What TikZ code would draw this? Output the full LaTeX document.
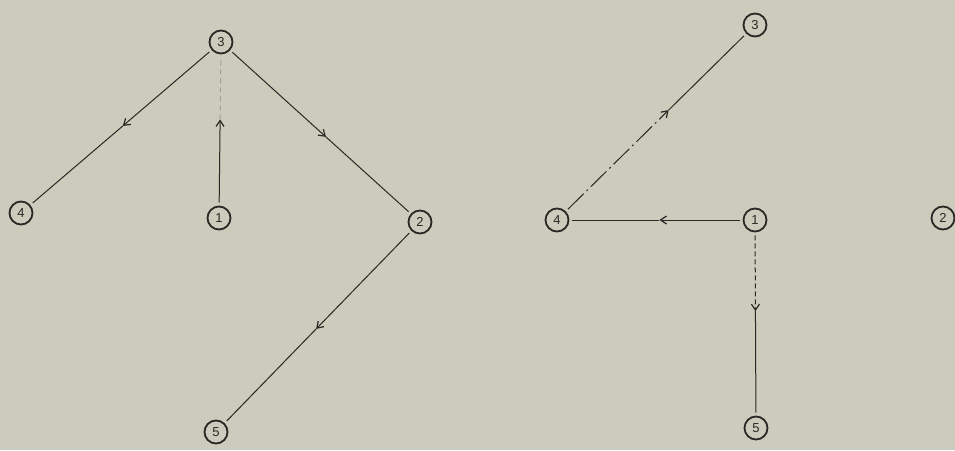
\documentclass[tikz,border=0pt]{standalone}
\usepackage{fontspec}
\setmainfont{Liberation Sans}
\usetikzlibrary{arrows.meta,calc}
\definecolor{paper}{RGB}{205,203,187}
\definecolor{ink}{RGB}{40,40,36}
\tikzset{
  vert/.style={circle,draw=ink,line width=1.8pt,minimum size=23pt,inner sep=0pt,
    font=\fontsize{13}{13}\selectfont,text=ink},
  edge/.style={draw=ink,line width=1pt},
  half/.style={edge,shorten <=3pt,-{Straight Barb[length=6pt,width=8pt,line width=1.2pt]}},
  rest/.style={edge,shorten >=3pt},
  faint/.style={edge,draw=ink!45,dash pattern=on 5pt off 4pt,shorten >=3pt},
}
\begin{document}
\begin{tikzpicture}[x=1pt,y=-1pt]
\fill[paper] (0,0) rectangle (955,450);
\useasboundingbox (0,0) rectangle (955,450);
% left graph
\node[vert] (L3) at (221,42) {3};
\node[vert] (L4) at (21,213) {4};
\node[vert] (L1) at (219,218) {1};
\node[vert] (L2) at (420,222) {2};
\node[vert] (L5) at (216,432) {5};
\path (L3) -- (L4) coordinate[pos=0.49] (m34);
\path (L1) -- (L3) coordinate[pos=0.57] (m13);
\path (L3) -- (L2) coordinate[pos=0.53] (m32);
\path (L2) -- (L5) coordinate[pos=0.51] (m25);
\draw[half] (L3) -- (m34); \draw[rest] (m34) -- (L4);
\draw[half] (L1) -- (m13); \draw[faint] (m13) -- (L3);
\draw[half] (L3) -- (m32); \draw[rest] (m32) -- (L2);
\draw[half] (L2) -- (m25); \draw[rest] (m25) -- (L5);
% right graph
\node[vert] (R3) at (755,25) {3};
\node[vert] (R4) at (557,220) {4};
\node[vert] (R1) at (755,220) {1};
\node[vert] (R2) at (943,218) {2};
\node[vert] (R5) at (756,428) {5};
\path (R4) -- (R3) coordinate[pos=0.57] (m43);
\path (R1) -- (R4) coordinate[pos=0.48] (m14);
\path (R1) -- (R5) coordinate[pos=0.43] (m15);
\draw[half,dash pattern=on 22pt off 4pt on 2pt off 4pt] (R4) -- (m43); \draw[rest] (m43) -- (R3);
\draw[half] (R1) -- (m14); \draw[rest] (m14) -- (R4);
\draw[half,dash pattern=on 5pt off 3pt] (R1) -- (m15); \draw[rest] (m15) -- (R5);
\end{tikzpicture}
\end{document}
